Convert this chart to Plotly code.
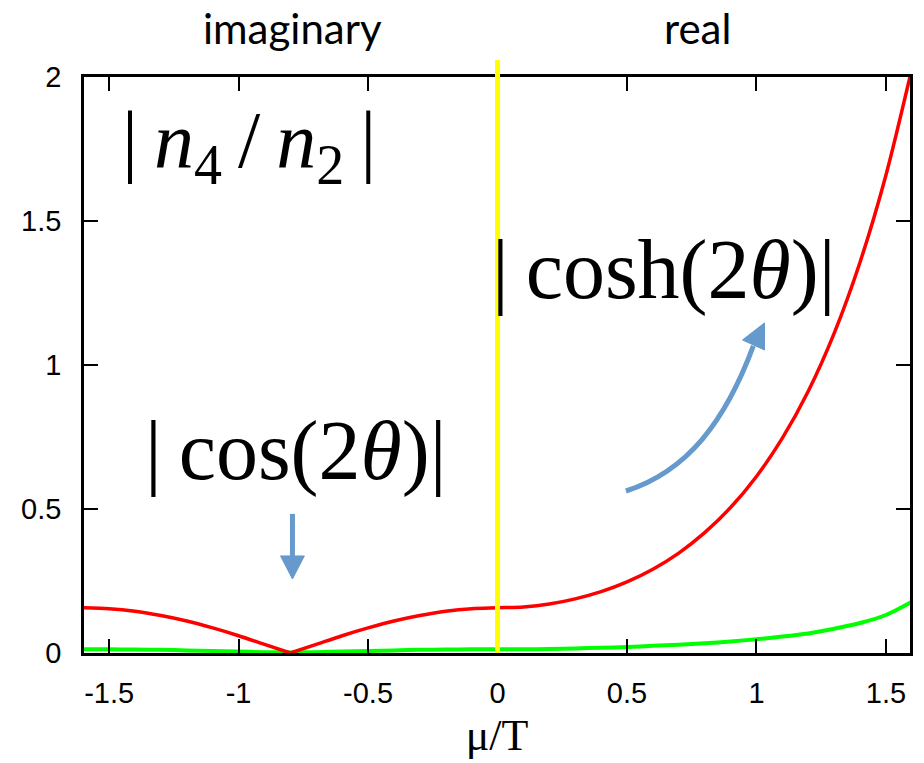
import plotly.graph_objects as go

# ---- data ----
mu = [-1.6, -1.5, -1.4, -1.3, -1.2, -1.1, -1.0, -0.9, -0.8, -0.7, -0.6, -0.5,
      -0.4, -0.3, -0.2, -0.1, 0.0, 0.1, 0.2, 0.3, 0.4, 0.5, 0.6, 0.7, 0.8,
      0.9, 1.0, 1.1, 1.2, 1.3, 1.4, 1.5, 1.6]
red_vals = [0.157, 0.154, 0.145, 0.130, 0.111, 0.087, 0.060, 0.030, 0.0,
            0.030, 0.060, 0.087, 0.111, 0.130, 0.145, 0.154, 0.157, 0.160,
            0.170, 0.188, 0.213, 0.247, 0.291, 0.347, 0.418, 0.505, 0.613,
            0.746, 0.909, 1.110, 1.357, 1.659, 2.028]
green_vals = [0.013, 0.013, 0.012, 0.011, 0.009, 0.007, 0.005, 0.003, 0.002,
              0.003, 0.005, 0.007, 0.009, 0.011, 0.012, 0.013, 0.013, 0.013,
              0.014, 0.016, 0.018, 0.021, 0.025, 0.029, 0.034, 0.040, 0.048,
              0.057, 0.068, 0.084, 0.104, 0.132, 0.178]
x_ticks = [-1.5, -1, -0.5, 0, 0.5, 1, 1.5]
x_tick_text = ["-1.5", "-1", "-0.5", "0", "0.5", "1", "1.5"]
y_ticks = [0, 0.5, 1, 1.5, 2]
y_tick_text = ["0", "0.5", "1", "1.5", "2"]

RED = "#ff0000"
GREEN = "#00ff00"
BLUE = "#6699cc"
SERIF = "Liberation Serif"
TS = "&#8201;"  # thin space

i0 = mu.index(-0.8)

fig = go.Figure()
fig.add_trace(go.Scatter(x=mu, y=green_vals, mode="lines",
                         line=dict(color=GREEN, width=4, shape="spline", smoothing=0.8),
                         hoverinfo="skip"))
fig.add_trace(go.Scatter(x=mu[:i0 + 1], y=red_vals[:i0 + 1], mode="lines",
                         line=dict(color=RED, width=3.5, shape="spline", smoothing=0.8),
                         hoverinfo="skip"))
fig.add_trace(go.Scatter(x=mu[i0:], y=red_vals[i0:], mode="lines",
                         line=dict(color=RED, width=3.5, shape="spline", smoothing=0.8),
                         hoverinfo="skip"))

shapes = [
    # yellow separator between imaginary and real chemical potential
    dict(type="line", xref="x", yref="paper", x0=0, x1=0, y0=0, y1=1.0295,
         line=dict(color="#ffff00", width=5), layer="above"),
    # curved arrow shaft
    dict(type="path", xref="x", yref="y",
         path="M 0.496,0.5625 C 0.735,0.632 0.881,0.806 0.988,1.066",
         line=dict(color=BLUE, width=5), layer="above"),
    # curved arrow head
    dict(type="path", xref="x", yref="y",
         path="M 1.031,1.146 L 0.946,1.087 L 1.031,1.052 Z",
         fillcolor=BLUE, line=dict(color=BLUE, width=1), layer="above"),
    # down arrow shaft
    dict(type="line", xref="x", yref="y", x0=-0.792, x1=-0.792, y0=0.483, y1=0.33,
         line=dict(color=BLUE, width=5), layer="above"),
    # down arrow head
    dict(type="path", xref="x", yref="y",
         path="M -0.792,0.257 L -0.838,0.337 L -0.746,0.337 Z",
         fillcolor=BLUE, line=dict(color=BLUE, width=1), layer="above"),
]

annotations = [
    dict(text="imaginary", xref="x", yref="paper", x=-0.792, y=1.085,
         xanchor="center", yanchor="middle",
         showarrow=False, font=dict(family="Lato", size=42, color="black")),
    dict(text="real", xref="x", yref="paper", x=0.773, y=1.085,
         xanchor="center", yanchor="middle",
         showarrow=False, font=dict(family="Lato", size=42, color="black")),
    dict(text="|" + TS + "<i>n</i><sub>4</sub>" + TS + "/" + TS + "<i>n</i><sub>2</sub>" + TS + "|",
         xref="x", yref="y", x=-0.958, y=1.76, showarrow=False,
         xanchor="center", yanchor="middle",
         font=dict(family=SERIF, size=80, color="black")),
    dict(text="|" + TS + "cosh(2<i>θ</i>)|", xref="x", yref="y",
         x=0.642, y=1.33, showarrow=False,
         xanchor="center", yanchor="middle",
         font=dict(family=SERIF, size=84, color="black")),
    dict(text="|" + TS + "cos(2<i>θ</i>)|", xref="x", yref="y",
         x=-0.777, y=0.70, showarrow=False,
         xanchor="center", yanchor="middle",
         font=dict(family=SERIF, size=84, color="black")),
]

axis_common = dict(showgrid=False, zeroline=False, showline=True,
                   linecolor="black", linewidth=2.5, mirror="ticks",
                   ticks="inside", ticklen=14, tickwidth=2, tickcolor="black",
                   tickfont=dict(family="Liberation Sans", size=29, color="black"))

fig.update_layout(
    width=924, height=763,
    margin=dict(l=84, r=11, t=77, b=110),
    paper_bgcolor="white", plot_bgcolor="white",
    showlegend=False,
    shapes=shapes,
    annotations=annotations,
    xaxis=dict(range=[-1.597, 1.593], tickvals=x_ticks, ticktext=x_tick_text,
               ticklabelstandoff=12,
               title=dict(text="μ/T", standoff=12,
                          font=dict(family=SERIF, size=44, color="black")),
               **axis_common),
    yaxis=dict(range=[0, 2], tickvals=y_ticks, ticktext=y_tick_text,
               ticklabelstandoff=14, **axis_common),
)

fig.write_html("out.html")
